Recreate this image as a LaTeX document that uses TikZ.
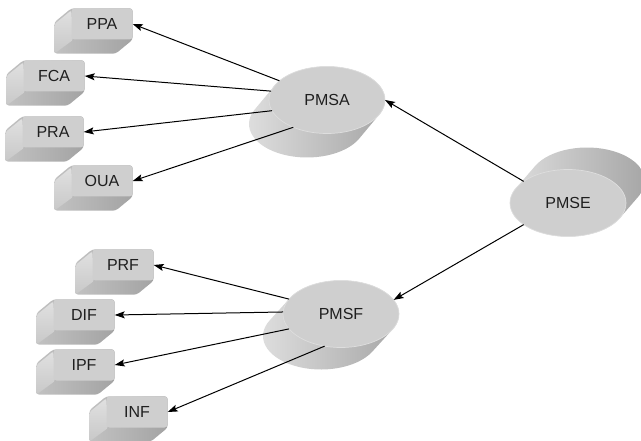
\documentclass[tikz,border=0pt]{standalone}
\usepackage{fontspec}
\setmainfont{Liberation Sans}
\usetikzlibrary{shapes.geometric,arrows.meta}
\pgfdeclarelayer{background}
\pgfsetlayers{background,main}

\definecolor{facegray}{gray}{0.81}
\definecolor{rimgray}{gray}{0.87}
\definecolor{textgray}{gray}{0.12}
\definecolor{leftgray}{gray}{0.88}
\definecolor{botgrayA}{gray}{0.76}
\definecolor{botgrayB}{gray}{0.64}
\definecolor{bodygrayA}{gray}{0.88}
\definecolor{bodygrayB}{gray}{0.64}

% body of a disk: centre, offset of the back face, tangent angles
\newcommand{\diskbody}[7]{%
  \shade[left color=bodygrayA,right color=bodygrayB]
    (#1,#2) ++(#5:58 and 33.5) -- ++(#3,#4)
    arc[start angle=#5,end angle=#6,x radius=58,y radius=33.5]
    -- ++({-1*(#3)},{-1*(#4)})
    arc[start angle=#6,end angle=#7,x radius=58,y radius=33.5] -- cycle;}

\begin{document}
\begin{tikzpicture}[x=1pt,y=1pt,
  labelfont/.style={text=textgray,font=\fontsize{16}{19}\selectfont},
  blockface/.style={rectangle,rounded corners=3pt,fill=facegray,
    minimum width=61pt,minimum height=31pt,inner sep=0pt,labelfont},
  diskface/.style={ellipse,fill=facegray,draw=rimgray,line width=0.7pt,
    minimum width=116pt,minimum height=67pt,inner sep=0pt,outer sep=0pt,labelfont},
  link/.style={-{Stealth[length=10pt,width=7pt,inset=2pt]},line width=1pt,black}]

\useasboundingbox (0,0) rectangle (641,440);

\diskbody{327}{340}{-20}{-24}{155}{335}{515}
\diskbody{341}{126}{-20}{-22}{152}{332}{512}
\diskbody{568}{237}{19}{22}{-27}{153}{333}

\node[diskface] (pmsa) at (327,340) {PMSA};
\node[diskface] (pmsf) at (341,126) {PMSF};
\node[diskface] (pmse) at (568,237) {PMSE};

\node[blockface] (ppa) at (102,416) {PPA};
\node[blockface] (fca) at (54,364) {FCA};
\node[blockface] (pra) at (53,308) {PRA};
\node[blockface] (oua) at (102,259) {OUA};

\node[blockface] (prf) at (123,175) {PRF};
\node[blockface] (dif) at (84,125) {DIF};
\node[blockface] (ipf) at (84,75) {IPF};
\node[blockface] (inf) at (137,28) {INF};

\begin{pgfonlayer}{background}
\foreach \b in {ppa,fca,pra,oua,prf,dif,ipf,inf}{
  \shade[left color=botgrayA,right color=botgrayB,rounded corners=3pt]
    (\b.north west) -- ++(-17,-14) -- ([shift={(-17,-14)}]\b.south west)
    -- ([shift={(-17,-14)}]\b.south east) -- (\b.south east)
    -- (\b.north east) -- cycle;
  \shade[top color=leftgray,bottom color=botgrayA!80!leftgray,rounded corners=2pt]
    ([yshift=-2pt]\b.north west) -- ++(-17,-14) -- ([shift={(-17,-14)}]\b.south west)
    -- ([xshift=2pt]\b.south west) -- cycle;
}
\end{pgfonlayer}

\draw[link] (pmse.154) -- (pmsa.east);
\draw[link] (pmse.206) -- (pmsf.15);

\draw[link] (pmsa.158) -- (ppa.east);
\draw[link] (pmsa.171) -- (fca.east);
\draw[link] (pmsa.191) -- (pra.east);
\draw[link] (pmsa.219) -- (oua.east);

\draw[link] (pmsf.164) -- (prf.east);
\draw[link] (pmsf.178) -- (dif.east);
\draw[link] (pmsf.196) -- (ipf.east);
\draw[link] (pmsf.243) -- (inf.east);

\end{tikzpicture}
\end{document}
